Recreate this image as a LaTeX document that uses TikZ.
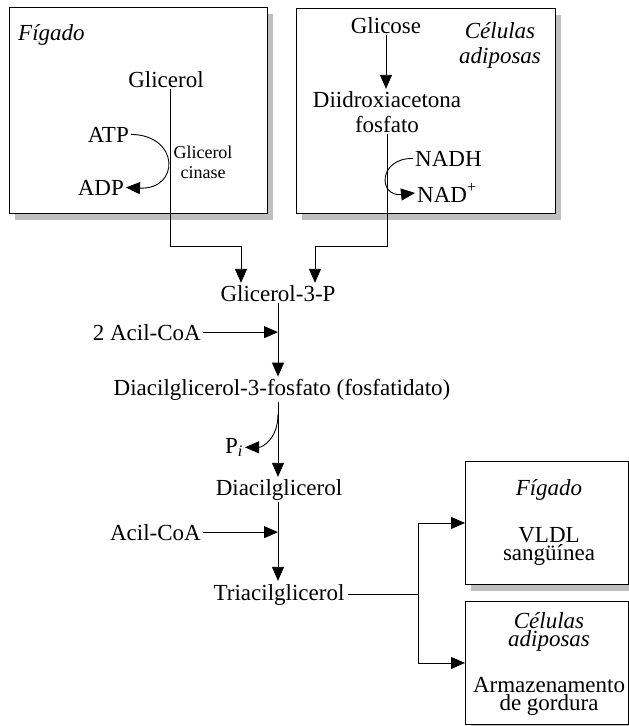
\documentclass[tikz,border=0pt]{standalone}
\usepackage{fontspec}
\setmainfont{Liberation Serif}
\usetikzlibrary{arrows.meta,calc,shadows}

\tikzset{
  txt/.style={font=\fontsize{23}{25}\selectfont, inner sep=2pt, align=center},
  tight/.style={font=\fontsize{23}{18}\selectfont, inner sep=2pt, align=center},
  small/.style={font=\fontsize{18}{20}\selectfont, inner sep=1pt, align=center},
  flow/.style={line width=0.9pt},
  arr/.style={flow, -{Triangle[length=14pt,width=12pt]}},
  panel/.style={draw, line width=0.9pt, fill=white, anchor=north west,
    drop shadow={shadow xshift=6pt, shadow yshift=-7pt, fill=black!25, opacity=1}},
}

\begin{document}
\begin{tikzpicture}[x=1pt,y=-1pt]
\useasboundingbox (0,0) rectangle (629,726);

% compartments
\node[panel, minimum width=258pt, minimum height=206pt] (liver) at (9,7) {};
\node[panel, minimum width=259pt, minimum height=205pt] (adipo) at (296,8) {};
\node[panel, minimum width=163pt, minimum height=123pt] (vldlbox) at (465,461) {};
\node[panel, minimum width=163pt, minimum height=123pt] (storebox) at (465,601) {};

% liver: glycerol kinase (multi-line nodes sit on their last baseline)
\node[txt, anchor=base west] (figA) at (16,40) {\itshape Fígado};
\node[txt, anchor=base] (glicerol) at (166,87) {Glicerol};
\node[txt, anchor=base east] (atp) at (131,142) {ATP};
\node[txt, anchor=base east] (adp) at (126,195) {ADP};
\node[small, anchor=base] (gk) at (203,178) {Glicerol\\cinase};

% adipose tissue: glycolysis branch
\node[txt, anchor=base] (glicose) at (386,33) {Glicose};
\node[txt, anchor=base] (celA) at (500,63) {\itshape Células\\\itshape adiposas};
\node[txt, anchor=base] (dhap) at (387,132) {Diidroxiacetona\\fosfato};
\node[txt, anchor=base west] (nadh) at (413,166) {NADH};
\node[txt, anchor=base west] (nad) at (415,202) {NAD\textsuperscript{+}};

% common pathway
\coordinate (spine) at (278,0);
\node[txt, anchor=base] (g3p) at (278,301) {Glicerol-3-P};
\node[txt, anchor=base east] (acoa2) at (203,340) {2 Acil-CoA};
\node[txt, anchor=base] (dag3p) at (282,395) {Diacilglicerol-3-fosfato (fosfatidato)};
\node[txt, anchor=base east] (pi) at (245,453) {P\textsubscript{\itshape i}};
\node[txt, anchor=base] (dag) at (279,495) {Diacilglicerol};
\node[txt, anchor=base east] (acoa) at (203,540) {Acil-CoA};
\node[txt, anchor=base, inner sep=3pt] (tag) at (279,600) {Triacilglicerol};

% destinations
\node[txt, anchor=base] (figB) at (549,495) {\itshape Fígado};
\node[tight, anchor=base] (vldl) at (549,560) {VLDL\\sangüínea};
\node[tight, anchor=base] (celB) at (549,646) {\itshape Células\\\itshape adiposas};
\node[tight, anchor=base] (store) at (549,710) {Armazenamento\\de gordura};

% connectors
\coordinate (jl) at (170,246);
\coordinate (jr) at (387,246);
\coordinate (jb) at (418,0);

\draw[arr] (atp.east) .. controls (180,135) and (180,190) .. (adp.east);
\draw[arr] (glicerol.south -| jl) -- (jl) -| ([xshift=-37pt]g3p.north);

\draw[arr] (glicose.south) -- (glicose.south |- dhap.north);
\draw[arr] (nadh.west) .. controls (378,158) and (378,197) .. (nad.west);
\draw[arr] (dhap.south -| jr) -- (jr) -| ([xshift=37pt]g3p.north);

\draw[arr] (spine |- g3p.south) -- (spine |- dag3p.north);
\draw[arr] (acoa2.east) -- (acoa2.east -| spine);
\draw[arr] (spine |- dag3p.south) -- (spine |- dag.north);
\coordinate (pbr) at ($(spine |- dag3p.south)+(0,12)$);
\draw[arr] (pbr) .. controls ($(pbr)+(0,24)$) and ($(pi.east)+(18,0)$) .. (pi.east);
\draw[arr] (spine |- dag.south) -- (spine |- tag.north);
\draw[arr] (acoa.east) -- (acoa.east -| spine);

\draw[flow] (tag.east) -- (tag.east -| jb);
\draw[arr] (tag.east -| jb) |- (vldlbox.west);
\draw[arr] (tag.east -| jb) |- (storebox.west);
\end{tikzpicture}
\end{document}
